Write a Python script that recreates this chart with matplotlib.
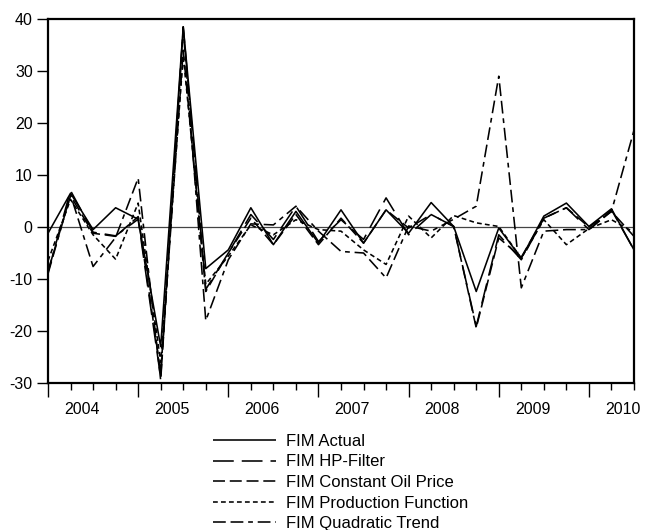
# -*- coding: utf-8 -*-
import numpy as np
import matplotlib.pyplot as plt

# quarterly FIM series, 2004Q1 .. 2010Q3
years = ['2004', '2005', '2006', '2007', '2008', '2009', '2010']

fim_actual = [-1.2, 6.5, -0.5, 3.7, 1.5, -23.0, 38.5, -8.0, -4.4, 3.7, -3.4, 3.0, -3.1, 3.3,
              -3.1, 3.3, -1.2, 4.7, 0.1, -12.4, -0.2, -6.0, 2.1, 4.6, 0.1, 3.5, -4.4]
fim_hp = [-8.7, 7.0, -1.0, -1.7, 1.5, -29.0, 38.5, -12.0, -5.0, 2.4, -2.4, 4.0, -2.8, 1.4,
          -2.4, 5.6, -1.5, 2.4, 0.1, -19.1, -1.5, -6.3, 1.7, 3.7, -0.5, 3.3, -4.4]
fim_oil = [-8.5, 6.0, -1.2, -1.8, 2.0, -28.0, 34.0, -12.4, -5.0, 1.7, -3.4, 2.4, -3.4, 1.7,
           -3.1, 3.3, -0.2, 2.4, 0.1, -19.4, -2.1, -5.8, 1.7, 3.7, 0.0, 3.0, -1.8]
fim_prod = [-6.5, 5.3, -1.5, -6.2, 4.6, -26.0, 33.0, -11.0, -5.6, 0.4, -1.5, 1.4, -0.5, -0.8,
            -4.4, -7.2, 2.1, -2.1, 2.2, 0.8, 0.1, -6.0, 1.4, -3.4, -0.3, 1.4, -1.0]
fim_quad = [-9.0, 6.2, -7.6, -2.0, 9.4, -29.5, 38.0, -18.0, -6.3, 0.6, 0.4, 4.0, -0.8, -4.7,
            -5.0, -9.8, 0.2, -0.8, 1.5, 4.0, 29.0, -11.7, -0.8, -0.5, -0.5, 3.0, 18.6]

series = [
    ('FIM Actual', fim_actual, (0, ())),
    ('FIM HP-Filter', fim_hp, (0, (13, 5))),
    ('FIM Constant Oil Price', fim_oil, (0, (7.5, 3))),
    ('FIM Production Function', fim_prod, (0, (3, 2))),
    ('FIM Quadratic Trend', fim_quad, (0, (8, 3, 8, 3, 3, 3))),
]

plt.rcParams['font.family'] = ['Liberation Sans', 'DejaVu Sans']
plt.rcParams['axes.unicode_minus'] = False

fig = plt.figure(figsize=(6.45, 5.30), dpi=100)
ax = fig.add_axes([48/645, 1-383/530, (634-48)/645, (383-19)/530])

t = np.arange(len(fim_actual))
ax.axhline(0, color='#444444', lw=0.9, zorder=1)
for nom, y, ls in series:
    ax.plot(t, y, color='black', lw=1.15, linestyle=ls, label=nom)

ax.set_xlim(0, len(t)-1)
ax.set_ylim(-30, 40)
ax.set_yticks([-30, -20, -10, 0, 10, 20, 30, 40])
ax.tick_params(axis='y', direction='out', length=8, width=1, labelsize=11.5, pad=3)

# ticks annuels longs, trimestriels courts
ax.set_xticks(np.arange(0, len(t), 4))
ax.set_xticks(t, minor=True)
ax.set_xticklabels([])
ax.tick_params(axis='x', which='major', direction='out', length=10, width=1)
ax.tick_params(axis='x', which='minor', direction='out', length=5, width=1)
for i, an in enumerate(years):
    ax.text(1.5 + 4*i, -0.052, an, transform=ax.get_xaxis_transform(),
            ha='center', va='top', fontsize=11.5)

for s in ax.spines.values():
    s.set_linewidth(1.6)

fig.legend(loc='upper left', bbox_to_anchor=(213/645, 1-434/530), frameon=False,
           fontsize=12, handlelength=3.8, handletextpad=0.6, labelspacing=0.33,
           borderpad=0, borderaxespad=0)

plt.savefig('out.png', dpi=100)
